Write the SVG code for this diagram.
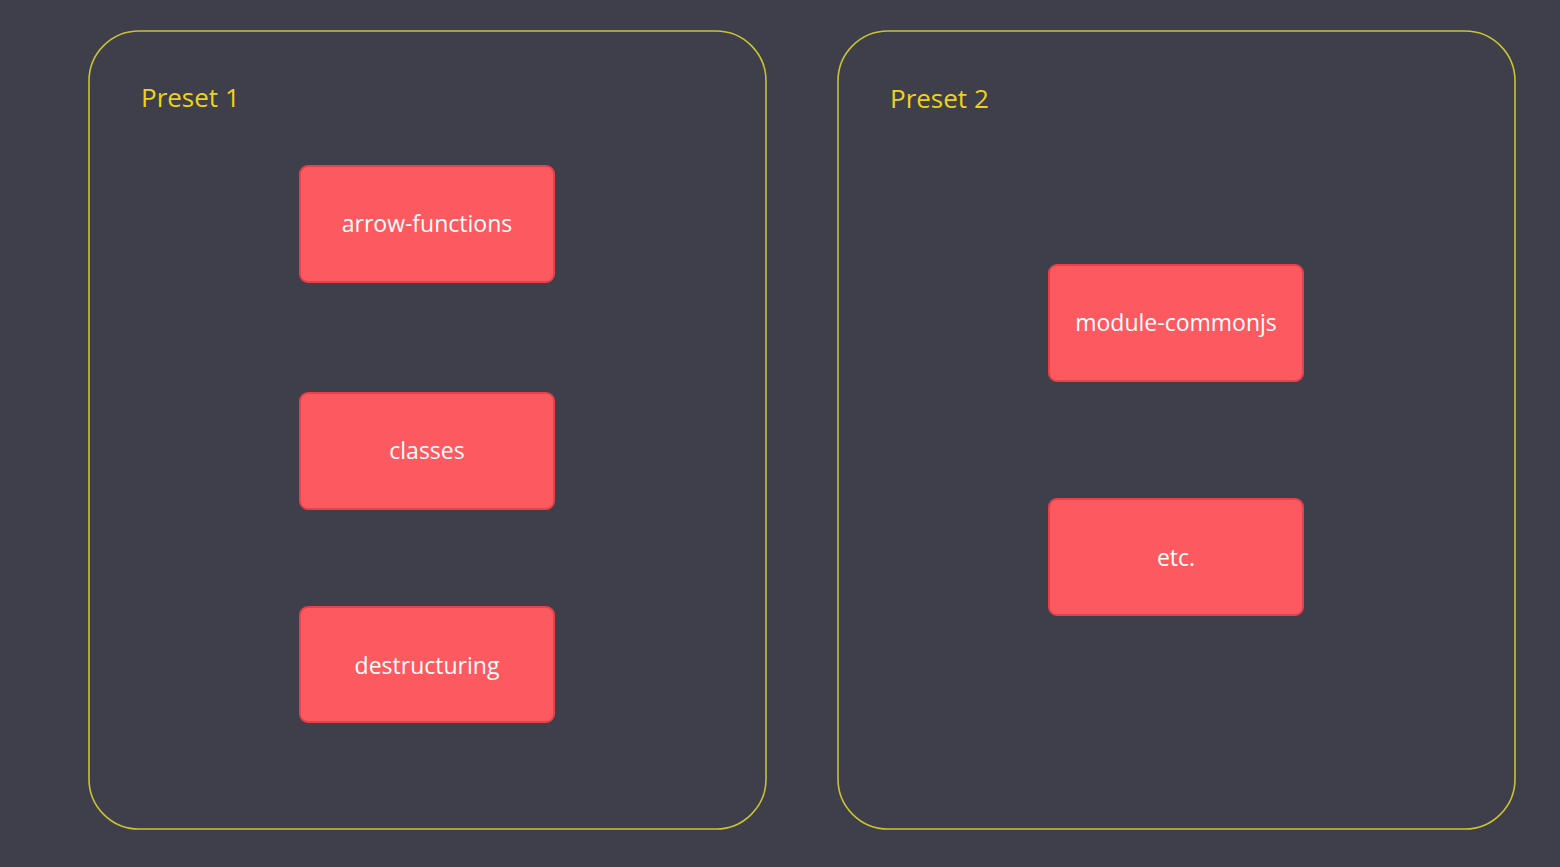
<svg xmlns="http://www.w3.org/2000/svg" width="1560" height="867" viewBox="0 0 1560 867">
<style>
.frame{fill:none;stroke:#c9c234;stroke-width:1.6}
.title{fill:#eed21a;font-family:"Open Sans","Noto Sans",sans-serif;font-size:26px}
.box{fill:#fc5a60;stroke:#e8414a;stroke-width:2}
.lbl{fill:#ffffff;font-family:"Open Sans","Noto Sans",sans-serif;font-size:23px;text-anchor:middle;dominant-baseline:central}
</style>
<rect width="1560" height="867" fill="#3f3e4b"/>
<g id="preset1">
<rect class="frame" x="89" y="31" width="677" height="798" rx="50"/>
<text class="title" x="141" y="107">Preset 1</text>
</g>
<g id="preset2">
<rect class="frame" x="838" y="31" width="677" height="798" rx="50"/>
<text class="title" x="890" y="108">Preset 2</text>
</g>
<g id="arrow-functions"><rect class="box" x="300" y="166" width="254" height="116" rx="8"/><text class="lbl" x="427" y="223">arrow-functions</text></g>
<g id="classes"><rect class="box" x="300" y="393" width="254" height="116" rx="8"/><text class="lbl" x="427" y="450">classes</text></g>
<g id="destructuring"><rect class="box" x="300" y="607" width="254" height="115" rx="8"/><text class="lbl" x="427" y="665">destructuring</text></g>
<g id="module-commonjs"><rect class="box" x="1049" y="265" width="254" height="116" rx="8"/><text class="lbl" x="1176" y="322">module-commonjs</text></g>
<g id="etc"><rect class="box" x="1049" y="499" width="254" height="116" rx="8"/><text class="lbl" x="1176" y="557">etc.</text></g>
<g id="connectors"></g>
</svg>
